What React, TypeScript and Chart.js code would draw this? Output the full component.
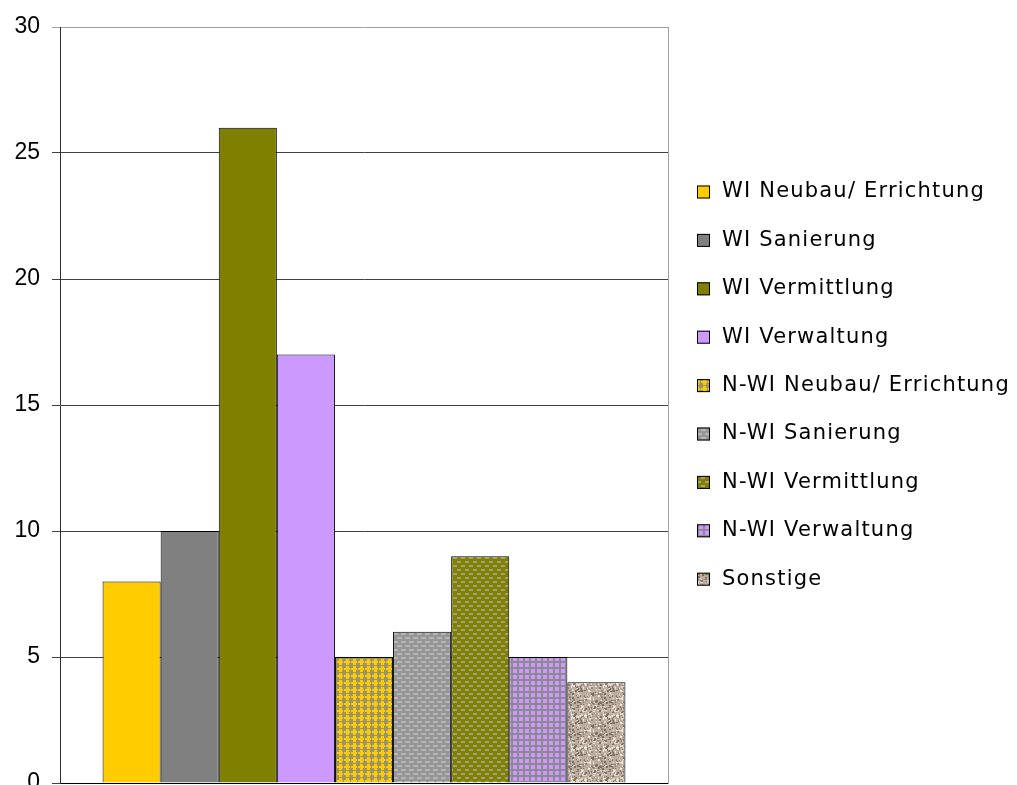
import React, { useEffect, useRef } from "react";
import { Chart, registerables } from "chart.js";

Chart.register(...registerables);

// Series (one bar each, all in a single category)
const seriesNames = [
  "WI Neubau/ Errichtung",
  "WI Sanierung",
  "WI Vermittlung",
  "WI Verwaltung",
  "N-WI Neubau/ Errichtung",
  "N-WI Sanierung",
  "N-WI Vermittlung",
  "N-WI Verwaltung",
  "Sonstige",
];
const seriesValues = [8, 10, 26, 17, 5, 6, 9, 5, 4];
const categories = [""];
const yTicks = [0, 5, 10, 15, 20, 25, 30];

function tile(w: number, h: number, draw: (c: CanvasRenderingContext2D) => void) {
  const cv = document.createElement("canvas");
  cv.width = w;
  cv.height = h;
  const c = cv.getContext("2d")!;
  draw(c);
  return c.createPattern(cv, "repeat")!;
}

function buildFills() {
  const yellowCross = tile(7, 7, (c) => {
    c.fillStyle = "#9c9468";
    c.fillRect(0, 0, 7, 7);
    c.fillStyle = "#ffcc00";
    c.fillRect(2, 0, 3, 6);
    c.fillRect(0, 2, 6, 2);
  });
  const grayBrick = tile(8, 8, (c) => {
    c.fillStyle = "#969696";
    c.fillRect(0, 0, 8, 8);
    c.fillStyle = "#b6b6b6";
    c.fillRect(1, 1, 5, 2);
    c.fillRect(5, 5, 3, 2);
    c.fillRect(0, 5, 2, 2);
  });
  const oliveBrick = tile(8, 8, (c) => {
    c.fillStyle = "#808000";
    c.fillRect(0, 0, 8, 8);
    c.fillStyle = "#a4a478";
    c.fillRect(1, 1, 4, 2);
    c.fillRect(5, 5, 3, 2);
    c.fillRect(0, 5, 1, 2);
  });
  const purpleCheck = tile(6, 6, (c) => {
    c.fillStyle = "#8e8a94";
    c.fillRect(0, 0, 6, 6);
    c.fillStyle = "#cc99ff";
    c.fillRect(1, 1, 4, 4);
  });
  const granite = tile(32, 32, (c) => {
    // deterministic speckle texture
    let s = 12345;
    const rnd = () => {
      s = (s * 1103515245 + 12345) & 0x7fffffff;
      return s / 0x7fffffff;
    };
    c.fillStyle = "#bcae9f";
    c.fillRect(0, 0, 32, 32);
    for (let i = 0; i < 260; i++) {
      const x = Math.floor(rnd() * 32);
      const y = Math.floor(rnd() * 32);
      const t = rnd();
      const col =
        t < 0.35 ? "#7e6e62" : t < 0.55 ? "#958578" : t < 0.8 ? "#ddd4ca" : "#eee8e0";
      c.fillStyle = col;
      c.fillRect(x, y, 1 + Math.floor(rnd() * 2), 1 + Math.floor(rnd() * 2));
    }
  });
  return [
    "#ffcc00",
    "#808080",
    "#808000",
    "#cc99ff",
    yellowCross,
    grayBrick,
    oliveBrick,
    purpleCheck,
    granite,
  ];
}

const legendFont = "21px 'DejaVu Sans', sans-serif";

const sideLegend = {
  id: "sideLegend",
  afterDraw(chart: any) {
    const { ctx, chartArea } = chart;
    const x0 = chartArea.right + 29;
    const yStart = chartArea.top + 165;
    const gap = 48.4;
    ctx.save();
    ctx.font = legendFont;
    (ctx as any).letterSpacing = "1.2px";
    ctx.textBaseline = "middle";
    ctx.textAlign = "left";
    chart.data.datasets.forEach((ds: any, i: number) => {
      const y = yStart + i * gap;
      ctx.fillStyle = ds.backgroundColor;
      ctx.fillRect(x0, y - 6.5, 13, 13);
      ctx.strokeStyle = "#000";
      ctx.lineWidth = 1;
      ctx.strokeRect(x0 + 0.5, y - 6, 12, 12);
      ctx.fillStyle = "#000";
      ctx.fillText(ds.label, x0 + 25, y);
    });
    ctx.restore();
  },
};

export default function App() {
  const ref = useRef<HTMLCanvasElement>(null);

  useEffect(() => {
    const fills = buildFills();
    const chart = new Chart(ref.current!, {
      type: "bar",
      data: {
        labels: categories,
        datasets: seriesNames.map((name, i) => ({
          label: name,
          data: [seriesValues[i]],
          backgroundColor: fills[i] as any,
          borderColor: "#000",
          borderWidth: 1,
        })),
      },
      options: {
        responsive: false,
        animation: false,
        layout: { padding: { top: 19, right: 341, bottom: 25, left: 0 } },
        datasets: { bar: { categoryPercentage: 0.86, barPercentage: 1 } },
        plugins: { legend: { display: false }, tooltip: { enabled: false } },
        scales: {
          x: {
            grid: { display: false },
            ticks: { display: false },
            border: { color: "#000", width: 1 },
            afterFit: (s: any) => {
              s.height = 0;
            },
          },
          y: {
            min: 0,
            max: 30,
            afterBuildTicks: (s: any) => {
              s.ticks = yTicks.map((v) => ({ value: v }));
            },
            ticks: {
              color: "#000",
              padding: 12,
              font: { family: "'Liberation Sans', Arial, sans-serif", size: 23 },
            },
            grid: {
              color: (c: any) => (c.tick && c.tick.value === 30 ? "#a0a0a0" : "#404040"),
              tickLength: 8,
              lineWidth: 1,
            },
            border: { color: "#303030", width: 1 },
            afterFit: (s: any) => {
              s.width = 52;
              s.paddingTop = 0;
              s.paddingBottom = 0;
            },
          },
          yRight: {
            position: "right",
            min: 0,
            max: 30,
            ticks: { display: false },
            grid: { display: false, drawTicks: false },
            border: { color: "#a0a0a0", width: 1 },
            afterFit: (s: any) => {
              s.width = 0;
              s.paddingTop = 0;
              s.paddingBottom = 0;
            },
          },
        },
      },
      plugins: [sideLegend],
    });
    return () => chart.destroy();
  }, []);

  return <canvas ref={ref} width={1001} height={800} style={{ display: "block" }} />;
}
